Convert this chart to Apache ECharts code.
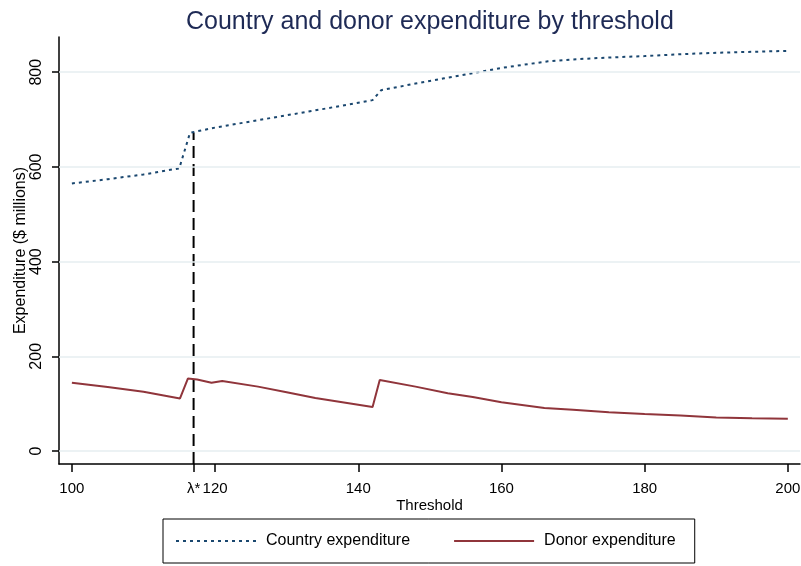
<!DOCTYPE html>
<html>
<head>
<meta charset="utf-8">
<script src="https://cdn.jsdelivr.net/npm/echarts@6/dist/echarts.min.js"></script>
<style>
  html, body { margin: 0; padding: 0; background: #fff; }
  #chart { width: 801px; height: 566px; }
</style>
</head>
<body>
<div id="chart"></div>
<script>
// threshold values and expenditure ($ millions)
const countryX = [100, 105, 110, 115, 116.5, 120, 125, 130, 135, 142, 143.2, 148, 152, 156, 160, 166.5, 170, 175, 180, 185, 190, 195, 200]
const countryY = [565, 574, 584, 597, 672, 683, 696, 709, 722, 741, 762, 776, 787, 798, 809, 823, 827, 831, 834, 838, 841, 843, 845]

const donorX = [100, 105, 110, 115.1, 116.2, 117.5, 119.5, 121, 126, 130, 134, 142, 143, 148, 152.5, 156, 160, 166, 170, 175, 180, 185, 190, 195, 200]
const donorY = [144, 135, 125, 111, 153, 151, 144, 148, 136, 124, 112, 93, 150, 136, 122, 114, 103, 91, 87, 82, 78, 75, 71, 69, 68]

// lambda* marker
const lambda = 117
const lambdaTop = 672

const xTicks = [100, lambda, 120, 140, 160, 180, 200]
const yTicks = [0, 200, 400, 600, 800]

const xMin = 98.2
const xMax = 201.7
const yMin = -27.4
const yMax = 874.3

const font = 'Liberation Sans, Arial, sans-serif'

function pairs(xs, ys) {
  return xs.map((x, i) => [x, ys[i]])
}

const chart = echarts.init(document.getElementById('chart'), null, { renderer: 'canvas' })

chart.setOption({
  animation: false,
  backgroundColor: '#ffffff',
  textStyle: { fontFamily: font },
  title: {
    text: 'Country and donor expenditure by threshold',
    left: 186,
    top: 10,
    padding: 0,
    textStyle: {
      fontFamily: font,
      fontSize: 25,
      fontWeight: 'normal',
      color: '#1e2a55'
    }
  },
  legend: {
    data: ['Country expenditure', 'Donor expenditure'],
    left: 163,
    top: 519,
    orient: 'horizontal',
    padding: [14, 19, 14, 12],
    itemGap: 43,
    itemWidth: 80,
    itemHeight: 14,
    borderColor: '#000',
    borderWidth: 1,
    borderRadius: 0,
    itemStyle: { opacity: 0 },
    textStyle: {
      fontFamily: font,
      fontSize: 16,
      color: '#000',
      padding: [0, 0, 0, 5]
    }
  },
  grid: {
    left: 59,
    right: 1,
    top: 37,
    bottom: 102,
    containLabel: false,
    outerBoundsMode: 'none'
  },
  xAxis: {
    type: 'value',
    min: xMin,
    max: xMax,
    name: 'Threshold',
    nameLocation: 'middle',
    nameGap: 34,
    nameMoveOverlap: false,
    nameTextStyle: { fontFamily: font, fontSize: 15, color: '#000' },
    axisLine: { show: true, onZero: false, lineStyle: { color: '#000', width: 1.5 } },
    axisTick: { show: true, inside: false, length: 8, customValues: xTicks, lineStyle: { color: '#000', width: 1.5 } },
    axisLabel: {
      customValues: xTicks,
      margin: 17,
      fontFamily: font,
      fontSize: 15,
      color: '#000',
      formatter: function(v) {
        return v === lambda ? 'λ*' : String(v)
      }
    },
    splitLine: { show: false }
  },
  yAxis: {
    type: 'value',
    min: yMin,
    max: yMax,
    name: 'Expenditure ($ millions)',
    nameLocation: 'middle',
    nameGap: 30,
    nameMoveOverlap: false,
    nameTextStyle: { fontFamily: font, fontSize: 16, color: '#000' },
    axisLine: { show: true, onZero: false, lineStyle: { color: '#000', width: 1.5 } },
    axisTick: { show: true, inside: false, length: 7, customValues: yTicks, lineStyle: { color: '#000', width: 1.5 } },
    axisLabel: {
      customValues: yTicks,
      rotate: 90,
      margin: 14,
      fontFamily: font,
      fontSize: 16,
      color: '#000'
    },
    splitLine: { show: false }
  },
  series: [
    {
      // horizontal grid lines
      name: 'grid',
      type: 'line',
      data: [],
      z: 0,
      markLine: {
        silent: true,
        symbol: 'none',
        label: { show: false },
        lineStyle: { color: '#e6eef0', type: 'solid', width: 1.5 },
        data: yTicks.map(v => ({ yAxis: v }))
      }
    },
    {
      name: 'Country expenditure',
      type: 'line',
      data: pairs(countryX, countryY),
      symbol: 'none',
      z: 3,
      lineStyle: { color: '#1a476f', width: 2, type: [3, 4] },
      itemStyle: { color: '#1a476f' }
    },
    {
      name: 'Donor expenditure',
      type: 'line',
      data: pairs(donorX, donorY),
      symbol: 'none',
      z: 3,
      lineStyle: { color: '#90353b', width: 2, type: 'solid' },
      itemStyle: { color: '#90353b' }
    },
    {
      name: 'lambda',
      type: 'line',
      data: [[lambda, yMin], [lambda, lambdaTop]],
      symbol: 'none',
      z: 2,
      lineStyle: { color: '#000', width: 2, type: [12, 6] }
    }
  ]
})
</script>
</body>
</html>
